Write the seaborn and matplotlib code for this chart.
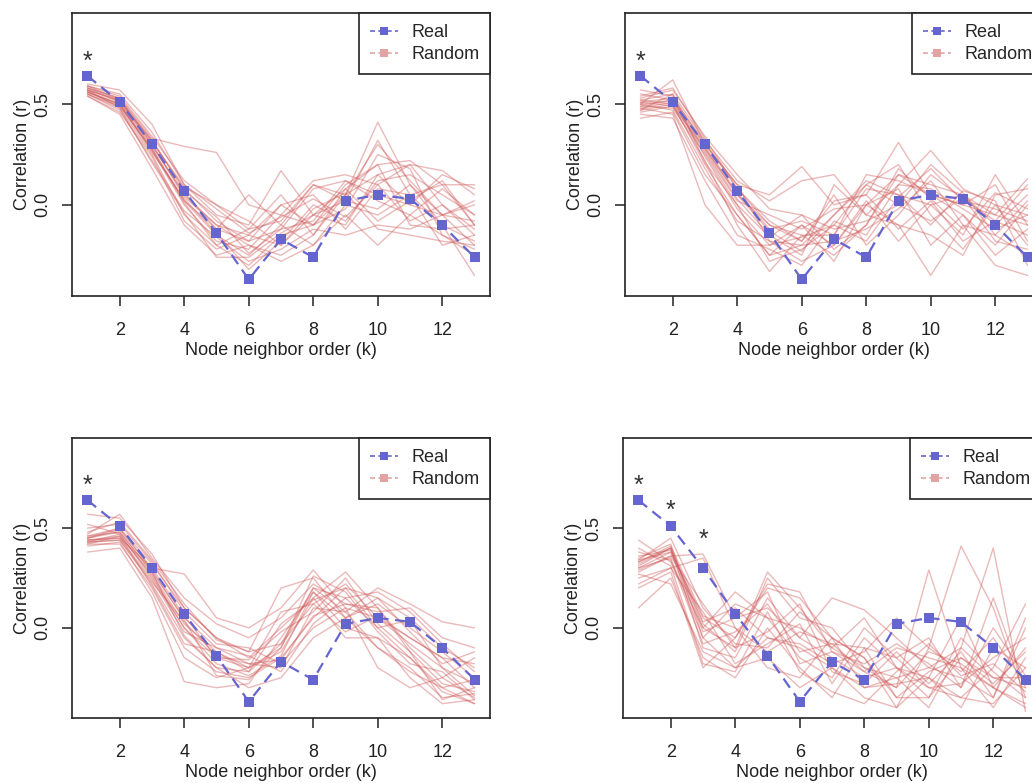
import pandas as pd
import seaborn as sns
import matplotlib.pyplot as plt
from matplotlib.lines import Line2D

# data
k = list(range(1, 14))
real = [0.64, 0.51, 0.30, 0.07, -0.14, -0.37, -0.17, -0.26, 0.02, 0.05, 0.03, -0.10, -0.26]

random_tl = [
    [0.58, 0.53, 0.33, 0.29, 0.26, 0.00, -0.05, -0.10, 0.05, 0.41, 0.10, -0.05, -0.08],
    [0.57, 0.52, 0.30, 0.05, -0.10, -0.15, -0.20, -0.05, 0.02, 0.32, 0.05, -0.10, -0.35],
    [0.56, 0.50, 0.28, 0.02, -0.15, -0.25, -0.10, 0.10, 0.05, 0.30, 0.12, -0.05, -0.20],
    [0.55, 0.48, 0.25, -0.05, -0.20, -0.30, -0.15, -0.10, 0.10, 0.20, 0.22, 0.10, 0.10],
    [0.60, 0.57, 0.40, 0.10, -0.05, -0.10, 0.17, -0.05, -0.10, 0.15, 0.20, 0.17, 0.05],
    [0.54, 0.45, 0.18, -0.10, -0.25, -0.20, -0.28, -0.20, -0.05, -0.20, -0.05, -0.15, -0.25],
    [0.59, 0.52, 0.32, 0.08, -0.08, -0.18, -0.12, 0.08, 0.12, 0.05, 0.00, 0.15, 0.08],
    [0.56, 0.49, 0.27, 0.00, -0.18, -0.22, -0.05, 0.12, 0.15, 0.10, -0.08, 0.00, -0.12],
    [0.57, 0.51, 0.29, 0.06, -0.12, 0.05, -0.10, -0.20, 0.00, -0.05, 0.05, -0.20, -0.15],
    [0.55, 0.47, 0.22, -0.03, -0.16, -0.28, -0.22, -0.12, -0.15, -0.10, -0.12, -0.05, 0.00],
    [0.58, 0.53, 0.31, 0.09, 0.00, -0.12, 0.05, -0.15, 0.08, 0.20, -0.10, -0.12, -0.10],
    [0.56, 0.50, 0.26, 0.03, -0.14, -0.32, -0.18, 0.00, -0.08, 0.12, 0.15, 0.05, -0.05],
    [0.59, 0.54, 0.34, 0.12, 0.00, -0.08, -0.20, -0.02, 0.06, -0.12, -0.15, -0.18, -0.20],
    [0.54, 0.46, 0.24, -0.08, -0.22, -0.15, 0.00, 0.05, -0.12, 0.08, 0.05, 0.10, -0.10],
    [0.57, 0.52, 0.30, 0.04, -0.10, -0.20, -0.25, -0.15, 0.05, 0.15, 0.00, -0.05, 0.02],
    [0.55, 0.49, 0.28, 0.01, -0.20, -0.12, -0.08, 0.10, 0.02, -0.02, 0.10, -0.10, -0.18],
    [0.58, 0.51, 0.32, 0.07, -0.06, -0.24, -0.12, -0.08, 0.12, 0.02, -0.05, 0.08, -0.05],
    [0.56, 0.50, 0.27, 0.02, -0.12, -0.18, 0.00, -0.10, -0.02, 0.25, 0.18, -0.15, -0.22],
    [0.57, 0.48, 0.21, -0.04, -0.26, -0.26, -0.14, -0.05, 0.08, -0.08, 0.02, 0.12, -0.10],
    [0.59, 0.55, 0.36, 0.10, -0.02, -0.14, -0.06, 0.03, -0.06, 0.10, 0.20, 0.00, -0.15],
]

random_tr = [
    [0.50, 0.62, 0.30, 0.10, 0.05, 0.19, 0.00, 0.05, 0.31, 0.05, 0.00, -0.05, 0.13],
    [0.52, 0.55, 0.32, 0.12, 0.02, 0.12, 0.15, -0.05, 0.10, 0.27, 0.08, 0.00, -0.05],
    [0.48, 0.45, 0.00, -0.20, -0.20, -0.10, -0.20, 0.00, -0.10, -0.35, -0.10, -0.30, -0.35],
    [0.47, 0.50, 0.20, -0.05, -0.25, -0.20, -0.05, 0.12, 0.05, 0.00, -0.15, 0.15, -0.10],
    [0.55, 0.52, 0.28, 0.05, -0.10, -0.15, -0.25, -0.10, 0.15, 0.10, 0.05, -0.10, 0.05],
    [0.49, 0.48, 0.25, 0.00, -0.28, -0.22, -0.10, 0.10, 0.20, -0.05, -0.22, 0.00, -0.20],
    [0.51, 0.53, 0.31, 0.08, -0.08, -0.18, 0.05, -0.20, -0.05, 0.15, 0.03, -0.08, -0.15],
    [0.46, 0.49, 0.22, -0.10, -0.33, -0.15, -0.15, 0.15, 0.12, 0.05, -0.05, -0.20, 0.00],
    [0.53, 0.57, 0.34, 0.15, -0.02, -0.05, -0.12, -0.08, 0.00, 0.20, 0.06, -0.15, -0.25],
    [0.50, 0.47, 0.18, -0.08, -0.18, -0.28, -0.20, 0.02, -0.18, 0.00, 0.05, -0.05, -0.10],
    [0.48, 0.51, 0.27, 0.03, -0.15, -0.25, 0.10, -0.05, -0.10, -0.15, -0.25, 0.05, 0.08],
    [0.57, 0.54, 0.29, 0.06, -0.12, -0.08, -0.15, 0.08, 0.05, -0.10, 0.07, 0.02, -0.30],
    [0.45, 0.43, 0.12, -0.15, -0.22, -0.30, -0.08, -0.15, 0.10, 0.08, -0.02, -0.12, -0.05],
    [0.52, 0.50, 0.26, 0.02, -0.05, -0.12, -0.02, 0.00, 0.15, 0.05, 0.00, 0.10, -0.18],
    [0.50, 0.52, 0.30, 0.10, -0.18, -0.20, -0.18, -0.12, -0.02, 0.12, -0.10, -0.15, 0.02],
    [0.43, 0.46, 0.15, -0.05, -0.25, -0.10, -0.28, 0.00, 0.08, -0.20, -0.05, -0.25, -0.12],
    [0.54, 0.58, 0.33, 0.08, -0.10, -0.18, 0.02, 0.05, -0.12, 0.02, -0.18, -0.08, 0.10],
    [0.49, 0.52, 0.24, -0.02, -0.20, -0.16, -0.10, -0.18, 0.04, 0.18, 0.02, -0.02, -0.08],
    [0.51, 0.49, 0.28, 0.05, -0.13, -0.23, -0.05, 0.10, 0.00, -0.08, 0.04, -0.18, -0.22],
    [0.47, 0.55, 0.21, 0.00, -0.16, -0.05, -0.22, -0.10, 0.18, 0.03, -0.12, 0.06, -0.02],
]

random_bl = [
    [0.44, 0.45, 0.30, 0.27, 0.05, 0.00, 0.10, 0.29, 0.10, 0.05, -0.05, -0.15, -0.30],
    [0.45, 0.50, 0.32, 0.10, -0.05, -0.15, 0.00, 0.15, 0.28, 0.10, -0.10, -0.25, -0.35],
    [0.43, 0.47, 0.25, 0.00, -0.15, -0.20, -0.10, 0.20, 0.15, 0.00, -0.15, -0.30, -0.38],
    [0.57, 0.55, 0.37, 0.10, -0.05, -0.12, 0.20, 0.25, 0.05, -0.10, -0.20, -0.35, -0.33],
    [0.42, 0.42, 0.20, -0.10, -0.22, -0.25, -0.15, 0.05, 0.20, 0.15, 0.05, -0.10, -0.20],
    [0.46, 0.48, 0.28, 0.05, -0.10, -0.18, -0.20, 0.10, 0.08, 0.20, 0.12, 0.03, 0.00],
    [0.38, 0.40, 0.15, -0.27, -0.30, -0.28, -0.05, 0.18, 0.00, -0.05, -0.25, -0.38, -0.36],
    [0.44, 0.46, 0.27, 0.02, -0.12, -0.22, -0.08, 0.12, 0.22, 0.05, -0.08, -0.20, -0.28],
    [0.50, 0.52, 0.33, 0.08, -0.08, -0.10, -0.18, 0.00, 0.10, -0.20, -0.30, -0.25, -0.15],
    [0.43, 0.44, 0.22, -0.05, -0.20, -0.30, -0.25, -0.05, 0.05, 0.12, 0.00, -0.12, -0.25],
    [0.47, 0.57, 0.35, 0.15, 0.02, -0.05, 0.05, 0.22, 0.12, 0.08, 0.10, -0.05, -0.10],
    [0.41, 0.43, 0.18, -0.15, -0.25, -0.20, -0.12, 0.15, -0.05, -0.05, -0.15, -0.32, -0.38],
    [0.45, 0.49, 0.30, 0.06, -0.15, -0.16, -0.02, 0.08, 0.25, 0.02, -0.12, -0.28, -0.32],
    [0.52, 0.47, 0.26, 0.00, -0.18, -0.24, -0.14, 0.18, 0.05, 0.15, -0.02, -0.18, -0.12],
    [0.44, 0.45, 0.24, -0.02, -0.10, -0.14, -0.22, 0.02, 0.15, 0.18, 0.08, -0.08, -0.22],
    [0.46, 0.50, 0.29, 0.04, -0.24, -0.26, -0.10, 0.26, 0.18, -0.02, -0.18, -0.22, -0.36],
    [0.42, 0.46, 0.21, -0.08, -0.12, -0.20, 0.08, 0.12, -0.02, 0.06, -0.05, -0.15, -0.18],
    [0.48, 0.53, 0.34, 0.12, -0.06, -0.12, -0.08, 0.20, 0.08, -0.10, -0.22, -0.30, -0.26],
    [0.43, 0.44, 0.23, 0.03, -0.14, -0.18, -0.16, 0.06, 0.12, 0.10, -0.12, -0.36, -0.30],
    [0.45, 0.48, 0.28, -0.04, -0.20, -0.22, 0.02, 0.14, 0.20, 0.00, 0.04, -0.20, -0.34],
]

random_br = [
    [0.33, 0.40, 0.00, -0.10, 0.28, 0.10, -0.10, -0.20, -0.30, 0.29, -0.20, -0.30, -0.40],
    [0.30, 0.38, 0.05, -0.05, 0.20, 0.15, -0.05, -0.15, -0.40, -0.10, 0.41, 0.10, -0.35],
    [0.35, 0.42, -0.05, -0.20, -0.05, -0.10, -0.20, -0.30, -0.25, -0.40, -0.10, 0.40, -0.42],
    [0.28, 0.36, 0.37, 0.05, 0.10, -0.05, -0.15, -0.25, -0.20, -0.30, -0.35, -0.20, 0.12],
    [0.10, 0.25, -0.15, -0.25, 0.00, -0.20, -0.35, -0.10, -0.15, -0.05, -0.30, 0.15, -0.30],
    [0.44, 0.33, 0.00, 0.18, 0.05, 0.00, -0.10, 0.05, -0.20, -0.25, -0.40, -0.10, -0.20],
    [0.32, 0.40, -0.10, -0.15, 0.15, -0.05, 0.15, 0.09, -0.05, -0.20, -0.25, -0.35, 0.05],
    [0.25, 0.30, 0.35, 0.00, -0.20, -0.25, -0.05, -0.15, -0.35, -0.35, -0.15, -0.25, -0.25],
    [0.20, 0.28, -0.20, -0.05, 0.22, 0.18, -0.12, -0.22, -0.10, -0.15, -0.20, -0.40, -0.15],
    [0.34, 0.45, 0.10, -0.08, -0.10, 0.08, -0.05, -0.30, -0.28, -0.25, 0.05, -0.30, -0.38],
    [0.30, 0.35, -0.05, 0.12, 0.05, -0.15, -0.25, 0.00, -0.15, -0.30, -0.28, -0.15, -0.05],
    [0.36, 0.39, 0.02, -0.12, 0.25, 0.05, 0.00, -0.20, -0.25, -0.20, -0.10, -0.25, -0.30],
    [0.27, 0.22, -0.12, -0.20, -0.15, -0.30, -0.20, -0.35, -0.40, -0.25, -0.35, -0.38, -0.20],
    [0.31, 0.40, 0.03, 0.10, -0.05, -0.08, -0.18, -0.12, 0.05, -0.10, -0.22, -0.05, -0.28],
    [0.38, 0.34, -0.08, -0.02, 0.12, -0.12, -0.08, -0.22, -0.30, -0.12, -0.18, -0.30, -0.10],
    [0.22, 0.30, 0.08, -0.18, -0.08, 0.02, -0.28, -0.05, -0.20, -0.35, -0.05, -0.22, -0.35],
    [0.34, 0.38, -0.02, 0.05, 0.18, -0.18, -0.12, -0.18, -0.08, -0.18, -0.30, 0.00, -0.24],
    [0.29, 0.36, 0.12, -0.10, -0.02, 0.12, -0.22, -0.28, -0.12, -0.28, -0.12, -0.35, 0.00],
    [0.40, 0.31, -0.18, -0.22, 0.08, -0.22, -0.32, -0.38, -0.22, -0.08, -0.24, -0.18, -0.32],
    [0.33, 0.41, 0.06, 0.00, -0.12, -0.02, -0.08, -0.10, -0.35, -0.22, -0.15, -0.28, -0.12],
]

# significance stars (k, y) per panel
stars_tl = [(1, 0.71)]
stars_tr = [(1, 0.71)]
stars_bl = [(1, 0.71)]
stars_br = [(1, 0.71), (2, 0.585), (3, 0.44)]

BLUE = "#6565cf"
RED = "#cf5a5a"
PINK = "#e2a3a3"

sns.set_style("ticks")
plt.rcParams['font.family'] = ['Liberation Sans', 'DejaVu Sans']

W, H = 1032, 783
fig = plt.figure(figsize=(W / 100, H / 100), dpi=100)

# axes boxes in pixels (left, top, right, bottom); right panels run off the page
boxes = [(72, 13, 490, 296), (625, 13, 1043, 296), (72, 438, 490, 718), (623, 438, 1041, 718)]
panels = [(random_tl, stars_tl), (random_tr, stars_tr), (random_bl, stars_bl), (random_br, stars_br)]

for (x0, y0, x1, y1), (rand, stars) in zip(boxes, panels):
    ax = fig.add_axes([x0 / W, 1 - y1 / H, (x1 - x0) / W, (y1 - y0) / H])

    rows = [(i, kk, v) for i, line in enumerate(rand) for kk, v in zip(k, line)]
    df = pd.DataFrame(rows, columns=["run", "k", "r"])
    sns.lineplot(data=df, x="k", y="r", units="run", estimator=None, color=RED,
                 alpha=0.42, lw=1.0, ax=ax, legend=False)

    sns.lineplot(x=k, y=real, ax=ax, color=BLUE, lw=1.6, linestyle=(0, (5, 3)),
                 marker="s", markersize=7, markeredgewidth=0, legend=False)

    for sk, sy in stars:
        ax.text(sk, sy, "*", ha="center", va="center", fontsize=18, color="#333333")

    ax.set_xlim(0.52, 13.48)
    ax.set_ylim(-0.452, 0.952)
    ax.set_xticks([2, 4, 6, 8, 10, 12])
    ax.set_yticks([0.0, 0.5])
    ax.set_yticklabels(["0.0", "0.5"], rotation=90, va="center")
    ax.tick_params(length=7, width=1.1, labelsize=13, colors="#222222", pad=12)
    ax.tick_params(axis="y", pad=8)
    for sp in ax.spines.values():
        sp.set_linewidth(1.2)
        sp.set_color("#222222")
    ax.set_xlabel("Node neighbor order (k)", fontsize=13, labelpad=2, color="#222222")
    ax.set_ylabel("Correlation (r)", fontsize=13, labelpad=2, color="#222222")

    handles = [
        Line2D([0], [0], color=BLUE, lw=1.2, ls=(0, (3, 2)), marker="s", markersize=6, markeredgewidth=0),
        Line2D([0], [0], color=PINK, lw=1.2, ls=(0, (3, 2)), marker="s", markersize=6, markeredgewidth=0),
    ]
    leg = ax.legend(handles, ["Real", "Random"], loc="upper right", borderaxespad=0,
                    fancybox=False, edgecolor="#222222", fontsize=13, handlelength=1.6,
                    handletextpad=0.7, borderpad=0.6, labelspacing=0.3, framealpha=1)
    leg.get_frame().set_linewidth(1.2)

fig.savefig("out.png", dpi=100)
